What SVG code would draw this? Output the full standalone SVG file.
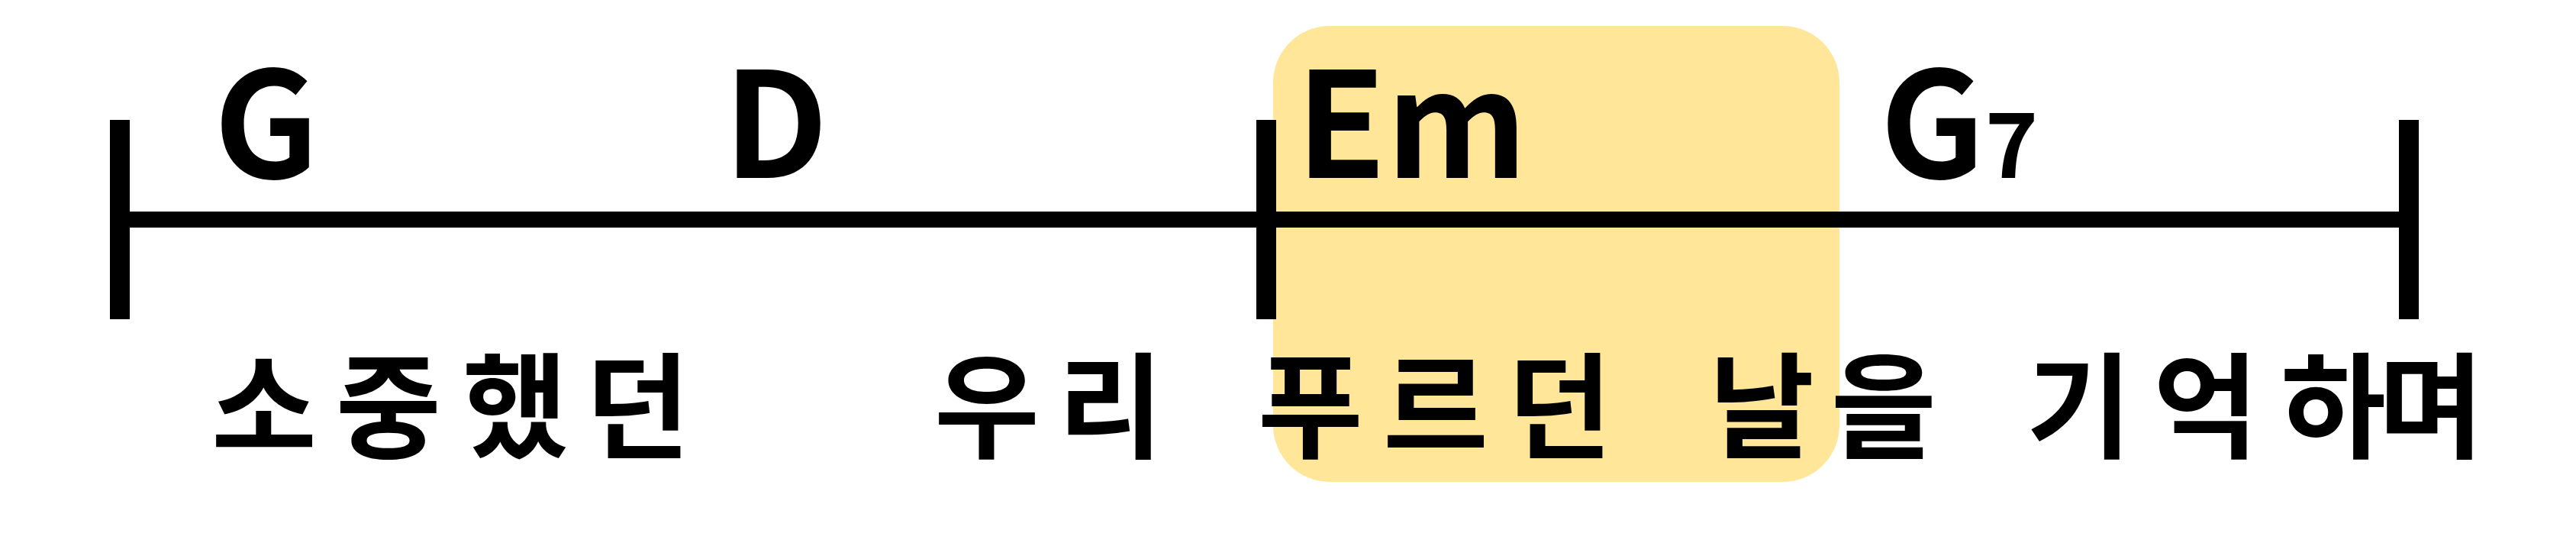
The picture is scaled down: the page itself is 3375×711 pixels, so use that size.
<svg xmlns="http://www.w3.org/2000/svg" width="3375" height="711" viewBox="0 0 3375 711">
<style>
.chord{font-family:"Noto Sans CJK KR","Noto Sans",sans-serif;font-weight:bold;font-size:192px;fill:#000}
.sub{font-size:118px}
.lyric{font-family:"Noto Sans CJK KR",sans-serif;font-weight:bold;font-size:150px;fill:#000;text-anchor:middle}
.bar{fill:#000}
</style>
<rect width="3375" height="711" fill="#fff"/>
<g id="highlight"><rect x="1668" y="34" width="742" height="597" rx="74" ry="74" fill="#FFE699"/></g>
<g id="staff">
<rect class="bar" x="144" y="277" width="3025" height="21"/>
<rect class="bar" x="144" y="157" width="26" height="261"/>
<rect class="bar" x="1646" y="157" width="26" height="261"/>
<rect class="bar" x="3143" y="157" width="26" height="261"/>
</g>
<g id="chords">
<text class="chord" x="280" y="233">G</text>
<text class="chord" x="948" y="233">D</text>
<text class="chord" x="1698" y="233">Em</text>
<text class="chord" x="2463" y="233">G<tspan class="sub">7</tspan></text>
</g>
<g id="lyrics">
<text class="lyric" x="346 509 675 835" y="588">소중했던</text>
<text class="lyric" x="1293 1455" y="588">우리</text>
<text class="lyric" x="1717 1881 2043" y="588">푸르던</text>
<text class="lyric" x="2308 2468" y="588">날을</text>
<text class="lyric" x="2724 2890 3057 3185" y="588">기억하며</text>
</g>
</svg>
